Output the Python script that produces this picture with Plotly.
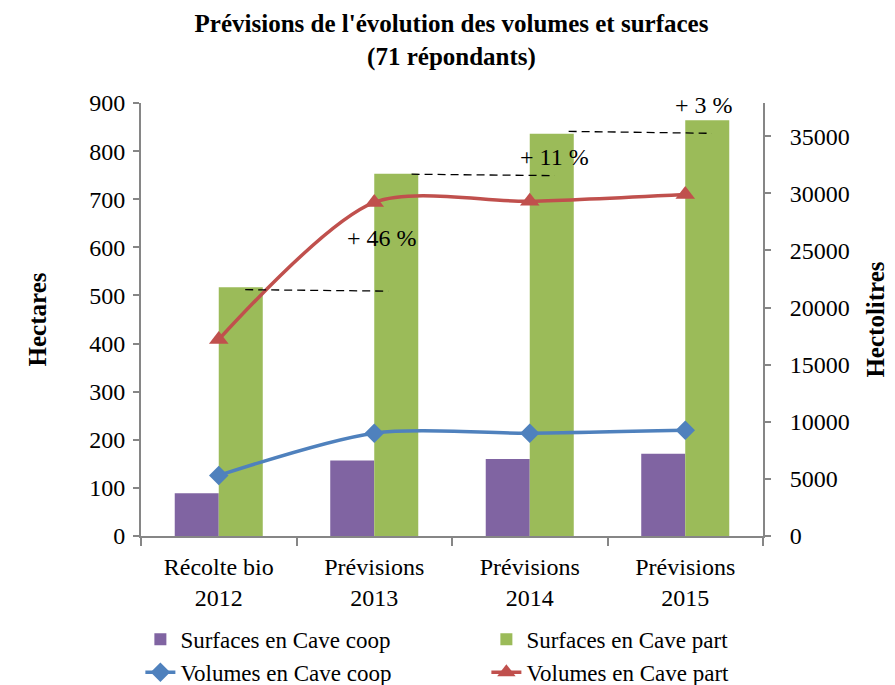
import plotly.graph_objects as go
from plotly.subplots import make_subplots

# categories and values
categories = ["Récolte bio<br>2012", "Prévisions<br>2013", "Prévisions<br>2014", "Prévisions<br>2015"]
surf_coop = [89, 157, 160, 171]        # hectares
surf_part = [517, 753, 836, 864]       # hectares
vol_coop = [5300, 9000, 9000, 9250]    # hectolitres
vol_part = [17200, 29200, 29300, 29900]

growth_labels = ["+ 46 %", "+ 11 %", "+ 3 %"]

font = "Liberation Serif"
purple = "#8064A2"
green = "#9BBB59"
blue = "#4F81BD"
red = "#C0504D"
axis_grey = "#868686"

fig = make_subplots(specs=[[{"secondary_y": True}]])

fig.add_trace(go.Bar(name="Surfaces en Cave coop", x=categories, y=surf_coop,
                     marker=dict(color=purple, line=dict(width=0))), secondary_y=False)
fig.add_trace(go.Bar(name="Surfaces en Cave part", x=categories, y=surf_part,
                     marker=dict(color=green, line=dict(width=0))), secondary_y=False)
fig.add_trace(go.Scatter(name="Volumes en Cave coop", x=categories, y=vol_coop, mode="lines+markers",
                         line=dict(color=blue, width=3.5, shape="spline", smoothing=0.8),
                         marker=dict(symbol="diamond", size=15, color=blue)), secondary_y=True)
fig.add_trace(go.Scatter(name="Volumes en Cave part", x=categories, y=vol_part, mode="lines+markers",
                         line=dict(color=red, width=3.5, shape="spline", smoothing=0.8),
                         marker=dict(symbol="triangle-up", size=17, color=red)), secondary_y=True)

# dashed guide lines from one green bar to the next, with growth labels
guides = [(0.17, 1.09, 512, 509), (1.24, 2.16, 752, 749), (2.25, 3.17, 841, 837)]
for x0, x1, y0, y1 in guides:
    fig.add_shape(type="line", xref="x", yref="y", x0=x0, x1=x1, y0=y0, y1=y1,
                  line=dict(color="black", width=1.3, dash="8px,5px"))
label_pos = [(1.05, 619), (2.16, 788), (3.12, 896)]
for txt, (lx, ly) in zip(growth_labels, label_pos):
    fig.add_annotation(x=lx, y=ly, xref="x", yref="y", text=txt, showarrow=False,
                       font=dict(size=24, color="black", family=font))

fig.update_layout(barmode="group", bargap=0.434, bargroupgap=0)
fig.update_xaxes(domain=[0, 1], showline=True, linecolor=axis_grey, linewidth=2, ticks="outside",
                 tickson="boundaries", ticklen=8, tickcolor=axis_grey, tickwidth=1.5,
                 ticklabelstandoff=8, automargin=False,
                 tickfont=dict(size=24, family=font, color="black"), showgrid=False)
fig.update_yaxes(range=[0, 900], dtick=100, showline=True, linecolor=axis_grey, linewidth=2,
                 ticks="outside", ticklen=6, tickcolor=axis_grey, tickwidth=1.5, showgrid=False,
                 zeroline=False, automargin=False, ticklabelstandoff=3,
                 tickfont=dict(size=24, family=font, color="black"),
                 title=dict(text="<b>Hectares</b>", font=dict(size=25, family=font, color="black"),
                            standoff=35), secondary_y=False)
fig.update_yaxes(range=[0, 37900], dtick=5000, tickformat="d", showline=True, linecolor=axis_grey,
                 linewidth=2, ticks="outside", ticklen=6, tickcolor=axis_grey, tickwidth=1.5,
                 showgrid=False, zeroline=False, automargin=False, ticklabelstandoff=14,
                 tickfont=dict(size=24, family=font, color="black"),
                 title=dict(text="<b>Hectolitres</b>", font=dict(size=25, family=font, color="black"),
                            standoff=18), secondary_y=True)

# the page body adds 8px around the figure, so the figure is 8px smaller each way
fig.update_layout(
    title=dict(text="<b>Prévisions de l'évolution des volumes et surfaces<br>(71 répondants)</b>",
               x=0.5, xanchor="center", y=0.964, yanchor="top",
               font=dict(size=25, family=font, color="black")),
    font=dict(family=font, size=24, color="black"),
    legend=dict(orientation="h", x=-0.001, xanchor="left", y=-0.189, yanchor="top",
                entrywidth=301, font=dict(size=23, family=font, color="black"),
                traceorder="normal", itemwidth=30, tracegroupgap=0),
    plot_bgcolor="white", paper_bgcolor="white",
    width=887, height=677,
    margin=dict(l=133, r=132, t=95, b=149, autoexpand=False),
)

fig.write_html("out.html")
